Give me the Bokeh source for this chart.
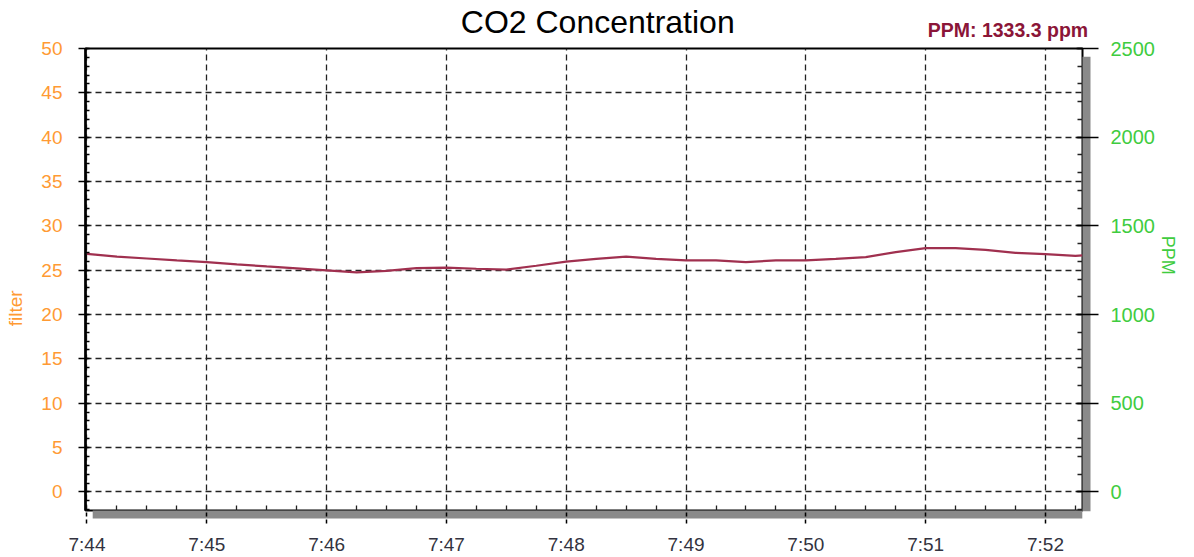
from bokeh.plotting import figure
from bokeh.models import Range1d, LinearAxis, FixedTicker, CustomLabelingPolicy
from bokeh.embed import file_html
from bokeh.resources import INLINE

# ---- data ----
minutes = [44.0, 44.25, 44.5, 44.75, 45.0, 45.25, 45.5, 45.75, 46.0, 46.25,
           46.5, 46.75, 47.0, 47.25, 47.5, 47.75, 48.0, 48.25, 48.5, 48.75,
           49.0, 49.25, 49.5, 49.75, 50.0, 50.25, 50.5, 50.75, 51.0, 51.25,
           51.5, 51.75, 52.0, 52.25, 52.31]
ppm = [1342, 1327, 1316, 1305, 1296, 1283, 1271, 1260, 1249, 1238,
       1246, 1262, 1264, 1258, 1253, 1275, 1298, 1314, 1326, 1314,
       1305, 1305, 1296, 1305, 1305, 1314, 1324, 1352, 1374, 1374,
       1365, 1348, 1341, 1331, 1333]
x_ticks = [44, 45, 46, 47, 48, 49, 50, 51, 52]
x_tick_labels = ["7:44", "7:45", "7:46", "7:47", "7:48", "7:49", "7:50", "7:51", "7:52"]
x_minor = [44 + i * 0.25 for i in range(0, 34)]
left_ticks = [0, 5, 10, 15, 20, 25, 30, 35, 40, 45, 50]
left_minor = list(range(-2, 51))
right_ticks = [0, 500, 1000, 1500, 2000, 2500]
right_minor = list(range(-100, 2501, 100))
title_text = "CO2 Concentration"
readout_text = "PPM: 1333.3 ppm"
left_label = "filter"
right_label = "PPM"

# ---- layout constants (pixels) ----
FL, FT, FR, FB = 85, 48, 1081.5, 512          # frame edges on the page
W, H = 1194, 557
X0 = 43.9875
PXX = 119.75                                   # px per minute
X1 = X0 + (FR - FL) / PXX
Y1 = 50.0
PXY = 8.906                                    # px per left unit
Y0 = Y1 - (FB - FT) / PXY
PPM_PER = 50.0                                 # right = left * 50
SHADOW = "#8a8a8a"


def xd(px):
    return X0 + (px - FL) / PXX


def yd(py):
    return Y1 - (py - FT) / PXY


p = figure(width=W, height=H, output_backend="svg", toolbar_location=None,
           x_range=Range1d(X0, X1), y_range=Range1d(Y0, Y1),
           min_border_left=FL, min_border_right=int(W - FR), min_border_top=FT,
           min_border_bottom=H - FB, background_fill_color="white",
           border_fill_color="white")
p.extra_y_ranges = {"ppm": Range1d(Y0 * PPM_PER, Y1 * PPM_PER)}

p.outline_line_color = "black"
p.outline_line_width = 2

# grids
p.xgrid.ticker = FixedTicker(ticks=x_ticks)
p.ygrid.ticker = FixedTicker(ticks=left_ticks)
for g in (p.xgrid, p.ygrid):
    g.grid_line_color = "#222222"
    g.grid_line_dash = "6 4"
    g.grid_line_width = 1.3

no_labels = CustomLabelingPolicy(code="""
for (const i of Array.from(indices)) { indices.unset(i) }
return indices
""")


def band_axis(ax, inner_ticks_w):
    # majors: small black inner ticks (no labels); minors: dense grey shadow band
    ax.axis_line_color = None
    ax.major_tick_in = 5
    ax.major_tick_out = 0
    ax.major_tick_line_color = "#222222"
    ax.major_tick_line_width = inner_ticks_w
    ax.minor_tick_in = 0
    ax.minor_tick_out = 8
    ax.minor_tick_line_color = SHADOW
    ax.minor_tick_line_width = 1.6
    ax.major_label_text_font_size = "0px"
    ax.major_label_standoff = 0
    ax.major_label_policy = no_labels


# ---- bottom: shadow band axis (closest) + main time axis ----
step_x = 0.8 / PXX
n_x = int((1089.5 - 93) / 0.8) + 1
band_x_ticks = [xd(93) + i * step_x for i in range(n_x)]
band_x = LinearAxis(ticker=FixedTicker(ticks=x_minor, minor_ticks=band_x_ticks),
                    bounds=(xd(93), xd(1089.5)))
band_axis(band_x, 1.3)

xa = p.xaxis[0]
xa.ticker = FixedTicker(ticks=x_ticks)
xa.major_label_overrides = {t: l for t, l in zip(x_ticks, x_tick_labels)}
xa.axis_line_color = None
xa.major_tick_in = 8
xa.major_tick_out = 5
xa.major_tick_line_dash = "4 3"
xa.major_tick_line_width = 1.5
xa.minor_tick_in = 0
xa.minor_tick_out = 0
xa.major_label_standoff = 10
xa.major_label_text_font = "Liberation Sans"
xa.major_label_text_font_size = "19px"
xa.major_label_text_color = "#333340"
p.below = [band_x, xa]

# ---- left: main axis + label axis ----
ya = p.yaxis[0]
ya.ticker = FixedTicker(ticks=left_ticks, minor_ticks=left_minor)
ya.axis_line_width = 2.5
ya.axis_line_color = "black"
ya.major_tick_out = 7
ya.major_tick_in = 2
ya.major_tick_line_width = 1.5
ya.minor_tick_in = 4
ya.minor_tick_out = 0
ya.minor_tick_line_width = 1.5
ya.major_label_standoff = 16
ya.major_label_text_font = "Liberation Sans"
ya.major_label_text_font_size = "19px"
ya.major_label_text_color = "#FF9A33"

fl_pos = yd(309)
filt = LinearAxis(ticker=FixedTicker(ticks=[fl_pos]),
                  major_label_overrides={fl_pos: left_label})
filt.axis_line_color = None
filt.major_tick_line_color = None
filt.minor_tick_line_color = None
filt.major_tick_in = 0
filt.major_tick_out = 0
filt.major_label_orientation = "vertical"
filt.major_label_standoff = 13
filt.major_label_text_font = "Liberation Sans"
filt.major_label_text_font_size = "19px"
filt.major_label_text_color = "#FF9A33"
p.left = [ya, filt]

# ---- right: shadow band + ppm axis + label axis ----
step_y = 0.8 / PXY
n_y = int((FB - 56.7) / 0.8) + 1
band_y_ticks = [yd(56.7) - i * step_y for i in range(n_y)]
band_y = LinearAxis(ticker=FixedTicker(ticks=[v / PPM_PER for v in right_minor],
                                       minor_ticks=band_y_ticks),
                    bounds=(Y0 + 0.001, yd(56.7)))
band_axis(band_y, 1.5)

ra = LinearAxis(y_range_name="ppm", ticker=FixedTicker(ticks=right_ticks))
ra.axis_line_color = None
ra.major_tick_out = 8
ra.major_tick_in = 14
ra.major_tick_line_width = 1.5
ra.minor_tick_in = 0
ra.minor_tick_out = 0
ra.major_label_standoff = 12
ra.major_label_text_font = "Liberation Sans"
ra.major_label_text_font_size = "20px"
ra.major_label_text_color = "#3FCC3F"

# rotated label is anchored at its start, so place the anchor at the text's top
pp_pos = yd(236)
ppml = LinearAxis(ticker=FixedTicker(ticks=[pp_pos]),
                  major_label_overrides={pp_pos: right_label})
ppml.axis_line_color = None
ppml.major_tick_line_color = None
ppml.minor_tick_line_color = None
ppml.major_tick_in = 0
ppml.major_tick_out = 0
ppml.major_label_orientation = -1.5707963267948966
ppml.major_label_standoff = 10
ppml.major_label_text_font = "Liberation Sans"
ppml.major_label_text_font_size = "18px"
ppml.major_label_text_color = "#3FCC3F"
p.right = [band_y, ra, ppml]

# ---- top: readout axis + title axis ----
rd_pos = xd(1007)
rd = LinearAxis(ticker=FixedTicker(ticks=[rd_pos]),
                major_label_overrides={rd_pos: readout_text})
ti_pos = xd(597)
ti = LinearAxis(ticker=FixedTicker(ticks=[ti_pos]),
                major_label_overrides={ti_pos: title_text})
for ax in (rd, ti):
    ax.axis_line_color = None
    ax.major_tick_line_color = None
    ax.minor_tick_line_color = None
    ax.major_tick_in = 0
    ax.major_tick_out = 0
    ax.major_label_text_font = "Liberation Sans"
rd.major_label_standoff = 8
rd.major_label_text_font_size = "19.5px"
rd.major_label_text_font_style = "bold"
rd.major_label_text_color = "#8B1538"
ti.major_label_standoff = -24
ti.major_label_text_font_size = "32px"
ti.major_label_text_color = "black"
p.above = [rd, ti]

# ---- data line ----
p.line(minutes, ppm, y_range_name="ppm", line_color="#A0304F", line_width=2.2)

open("out.html", "w").write(file_html(p, INLINE))
